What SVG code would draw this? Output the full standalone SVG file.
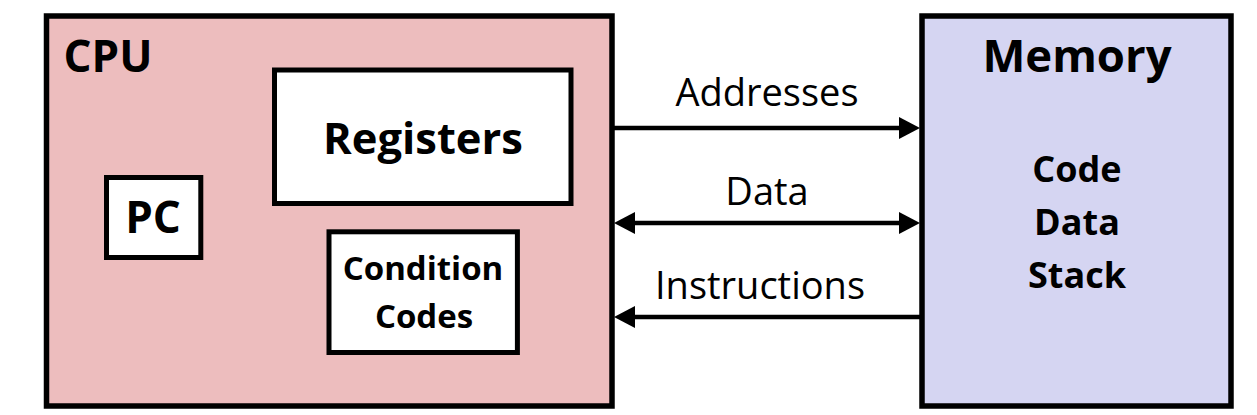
<svg xmlns="http://www.w3.org/2000/svg" width="1257" height="415" viewBox="0 0 1257 415">
  <style>
    .box { stroke: #000; stroke-width: 5.5; }
    .inner { fill: #fff; stroke: #000; stroke-width: 5; }
    .b { font-family: "Open Sans", "Liberation Sans", sans-serif; font-weight: bold; fill: #000; text-anchor: middle; }
    .r { font-family: "Open Sans", "Liberation Sans", sans-serif; font-weight: normal; fill: #000; text-anchor: middle; font-size: 38px; }
    .conn { stroke: #000; stroke-width: 4.5; fill: none; }
  </style>
  <defs>
    <marker id="arrow" viewBox="0 0 21 22" markerUnits="userSpaceOnUse" markerWidth="21" markerHeight="22" refX="0" refY="11" orient="auto-start-reverse">
      <path d="M0,0 L21,11 L0,22 Z" fill="#000"/>
    </marker>
  </defs>
  <rect width="1257" height="415" fill="#fff"/>

  <g id="cpu">
    <rect class="box" x="46.5" y="16" width="565.5" height="390" fill="#EDBDBE"/>
    <text class="b" x="108" y="72" font-size="44">CPU</text>
  </g>
  <g id="registers">
    <rect class="inner" x="274.5" y="70" width="296.5" height="133.5"/>
    <text class="b" x="423" y="154" font-size="43.5">Registers</text>
  </g>
  <g id="pc">
    <rect class="inner" x="106.5" y="177.5" width="94.3" height="80"/>
    <text class="b" x="153" y="233" font-size="44">PC</text>
  </g>
  <g id="condition-codes">
    <rect class="inner" x="329" y="231.8" width="188.4" height="120.7"/>
    <text class="b" x="423" y="280" font-size="33">Condition</text>
    <text class="b" x="424" y="328" font-size="33">Codes</text>
  </g>
  <g id="memory">
    <rect class="box" x="922" y="16" width="309" height="390" fill="#D5D5F2"/>
    <text class="b" x="1077" y="72" font-size="45.5">Memory</text>
    <text class="b" x="1077" y="182" font-size="36">Code</text>
    <text class="b" x="1077" y="235" font-size="36">Data</text>
    <text class="b" x="1077" y="288" font-size="36">Stack</text>
  </g>

  <g id="connectors">
    <line class="conn" x1="614" y1="128" x2="899" y2="128" marker-end="url(#arrow)"/>
    <line class="conn" x1="635" y1="223" x2="899" y2="223" marker-start="url(#arrow)" marker-end="url(#arrow)"/>
    <line class="conn" x1="920" y1="317" x2="635" y2="317" marker-end="url(#arrow)"/>
    <text class="r" x="767" y="106">Addresses</text>
    <text class="r" x="767" y="205">Data</text>
    <text class="r" x="760" y="299">Instructions</text>
  </g>
</svg>
